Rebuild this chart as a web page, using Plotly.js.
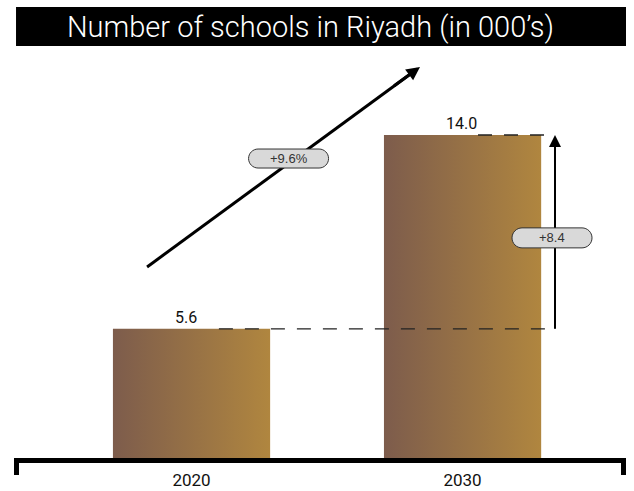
<!DOCTYPE html>
<html>
<head>
<meta charset="utf-8">
<script src="https://cdn.plot.ly/plotly-3.0.1.min.js"></script>
<style>html,body{margin:0;padding:0;background:#fff;}#chart{width:634px;height:491px;}</style>
</head>
<body>
<div id="chart"></div>
<script>
// ---- data ----
const years = ['2020', '2030'];
const schools = [5.6, 14.0];
const valueLabels = ['5.6', '14.0'];
const growthLabel = '+9.6%';
const diffLabel = '+8.4';
const chartTitle = 'Number of schools in Riyadh (in 000’s)';

// ---- style ----
const halfW = 0.29;
const gradLeft = '#7d5c4c';
const gradRight = '#b0863f';

const traces = schools.map((v, i) => ({
  type: 'scatter',
  mode: 'none',
  x: [i - halfW, i + halfW, i + halfW, i - halfW, i - halfW],
  y: [0, 0, v, v, 0],
  fill: 'toself',
  fillgradient: {type: 'horizontal', colorscale: [[0, gradLeft], [1, gradRight]]},
  hoverinfo: 'skip',
  showlegend: false
}));

function pill(w, h) {
  const r = h / 2, hw = w / 2, k = r * 0.5523;
  const a = hw - r;
  return `M ${-a},${r} L ${a},${r} C ${a + k},${r} ${hw},${k} ${hw},0 C ${hw},${-k} ${a + k},${-r} ${a},${-r} L ${-a},${-r} C ${-a - k},${-r} ${-hw},${-k} ${-hw},0 C ${-hw},${k} ${-a - k},${r} ${-a},${r} Z`;
}

const bracketX = 1.341;
const badge1 = {x: 0.358, y: 12.98};
const badge2 = {x: 1.330, y: 9.54};

// arrows: tail -> tip; line drawn as shape (below badges), head as a short annotation
const arrows = [
  {x0: -0.164, y0: 8.28, x1: 0.843, y1: 16.95, w: 3, f: 0.1, fl: 0.035, size: 0.9},
  {x0: bracketX, y0: schools[0], x1: bracketX, y1: schools[1], w: 2, f: 0.15, fl: 0.05, size: 1.2}
];

const shapes = [
  // title box
  {type: 'rect', xref: 'paper', yref: 'paper', x0: 0.0033, x1: 1.0, y0: 1.035, y1: 1.133,
   fillcolor: '#000', line: {width: 0}},
  // axis end ticks
  {type: 'line', xref: 'paper', yref: 'paper', xsizemode: 'pixel', ysizemode: 'pixel',
   xanchor: 0, yanchor: 0, x0: 2.5, x1: 2.5, y0: 0, y1: -17, line: {color: '#000', width: 5}},
  {type: 'line', xref: 'paper', yref: 'paper', xsizemode: 'pixel', ysizemode: 'pixel',
   xanchor: 1, yanchor: 0, x0: -2.5, x1: -2.5, y0: 0, y1: -17, line: {color: '#000', width: 5}},
  // dashed reference lines
  {type: 'line', xref: 'x', yref: 'y', x0: 0.101, x1: bracketX, y0: schools[0], y1: schools[0],
   line: {color: '#222', width: 1.3, dash: '14px,12px'}},
  {type: 'line', xref: 'x', yref: 'y', x0: 1.057, x1: bracketX, y0: schools[1], y1: schools[1],
   line: {color: '#222', width: 1.3, dash: '14px,12px'}}
];

const annotations = [
  {xref: 'paper', yref: 'paper', x: 0.484, y: 1.084, text: chartTitle, showarrow: false,
   font: {family: 'Roboto', weight: 300, size: 29, color: '#fff'}, xanchor: 'center', yanchor: 'middle'},
  // value labels
  {x: 0, y: schools[0], text: valueLabels[0], showarrow: false, yanchor: 'bottom', xshift: -6,
   font: {family: 'Roboto', size: 16, color: '#111'}},
  {x: 1, y: schools[1], text: valueLabels[1], showarrow: false, yanchor: 'bottom', xshift: -1,
   font: {family: 'Roboto', size: 16, color: '#111'}}
];

arrows.forEach(a => {
  const mx = a.x1 - a.f * (a.x1 - a.x0);
  const my = a.y1 - a.f * (a.y1 - a.y0);
  const lx = a.x1 - a.fl * (a.x1 - a.x0);
  const ly = a.y1 - a.fl * (a.y1 - a.y0);
  shapes.push({type: 'line', xref: 'x', yref: 'y', x0: a.x0, y0: a.y0, x1: lx, y1: ly,
               line: {color: '#000', width: a.w}});
  annotations.push({x: a.x1, y: a.y1, ax: mx, ay: my, axref: 'x', ayref: 'y', text: '', showarrow: true,
                    arrowhead: 2, arrowsize: a.size, arrowwidth: a.w, arrowcolor: '#000',
                    standoff: 0, startstandoff: 0});
});

// badges (drawn after the arrow lines, so they sit on top)
[[badge1, 19, growthLabel], [badge2, 20, diffLabel]].forEach(([b, h, label]) => {
  shapes.push({type: 'path', xref: 'x', yref: 'y', xsizemode: 'pixel', ysizemode: 'pixel',
               xanchor: b.x, yanchor: b.y, path: pill(80, h),
               fillcolor: '#d9d9d9', line: {color: '#333', width: 1}});
  annotations.push({x: b.x, y: b.y, text: label, showarrow: false,
                    font: {family: 'Liberation Sans', size: 13, color: '#333'}});
});

const layout = {
  width: 634, height: 491,
  margin: {l: 14, r: 8, t: 60, b: 33},
  paper_bgcolor: '#fff', plot_bgcolor: '#fff',
  showlegend: false,
  xaxis: {range: [-0.655, 1.603], tickvals: [0, 1], ticktext: years, showgrid: false, zeroline: false,
          showline: true, linewidth: 5, linecolor: '#000', ticks: '', fixedrange: true,
          ticklabelstandoff: 3,
          tickfont: {family: 'Roboto', size: 17, color: '#111'}},
  yaxis: {range: [0, 17.25], visible: false, fixedrange: true},
  shapes: shapes,
  annotations: annotations
};

Plotly.newPlot('chart', traces, layout, {displayModeBar: false, staticPlot: true});
</script>
</body>
</html>
